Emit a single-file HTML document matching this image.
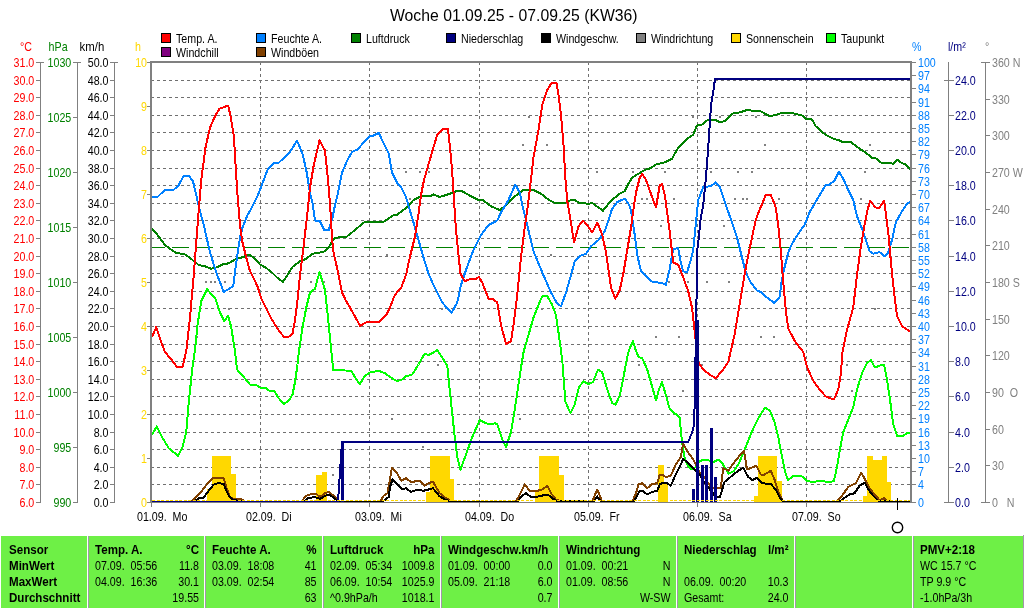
<!DOCTYPE html><html><head><meta charset="utf-8"><title>Woche 01.09.25 - 07.09.25 (KW36)</title>
<style>html,body{margin:0;padding:0;background:#fff;overflow:hidden}svg{display:block}text{font-family:"Liberation Sans",Arial,sans-serif;font-size:12px;white-space:pre}.b{font-weight:bold}</style></head><body>
<svg width="1024" height="608" viewBox="0 0 1024 608">
<rect width="1024" height="608" fill="#fff"/>
<text transform="translate(513.8,21) scale(0.985,1)" fill="#000" text-anchor="middle" style="font-size:16px" xml:space="preserve">Woche 01.09.25 - 07.09.25 (KW36)</text>
<rect x="161.5" y="33.5" width="9" height="9" fill="#ff0000" stroke="#000" shape-rendering="crispEdges"/>
<text transform="translate(176,42.5) scale(0.89,1)" xml:space="preserve">Temp. A.</text>
<rect x="256.5" y="33.5" width="9" height="9" fill="#0080ff" stroke="#000" shape-rendering="crispEdges"/>
<text transform="translate(271,42.5) scale(0.89,1)" xml:space="preserve">Feuchte A.</text>
<rect x="351.5" y="33.5" width="9" height="9" fill="#008000" stroke="#000" shape-rendering="crispEdges"/>
<text transform="translate(366,42.5) scale(0.89,1)" xml:space="preserve">Luftdruck</text>
<rect x="446.5" y="33.5" width="9" height="9" fill="#000080" stroke="#000" shape-rendering="crispEdges"/>
<text transform="translate(461,42.5) scale(0.89,1)" xml:space="preserve">Niederschlag</text>
<rect x="541.5" y="33.5" width="9" height="9" fill="#000000" stroke="#000" shape-rendering="crispEdges"/>
<text transform="translate(556,42.5) scale(0.89,1)" xml:space="preserve">Windgeschw.</text>
<rect x="636.5" y="33.5" width="9" height="9" fill="#808080" stroke="#000" shape-rendering="crispEdges"/>
<text transform="translate(651,42.5) scale(0.89,1)" xml:space="preserve">Windrichtung</text>
<rect x="731.5" y="33.5" width="9" height="9" fill="#ffd800" stroke="#000" shape-rendering="crispEdges"/>
<text transform="translate(746,42.5) scale(0.89,1)" xml:space="preserve">Sonnenschein</text>
<rect x="826.5" y="33.5" width="9" height="9" fill="#00ff00" stroke="#000" shape-rendering="crispEdges"/>
<text transform="translate(841,42.5) scale(0.89,1)" xml:space="preserve">Taupunkt</text>
<rect x="161.5" y="47.5" width="9" height="9" fill="#800080" stroke="#000" shape-rendering="crispEdges"/>
<text transform="translate(176,56.5) scale(0.89,1)" xml:space="preserve">Windchill</text>
<rect x="256.5" y="47.5" width="9" height="9" fill="#804000" stroke="#000" shape-rendering="crispEdges"/>
<text transform="translate(271,56.5) scale(0.89,1)" xml:space="preserve">Windböen</text>
<g shape-rendering="crispEdges">
<line x1="151" x2="910" y1="80.5" y2="80.5" stroke="#707070" stroke-width="1" stroke-dasharray="3 3"/>
<line x1="151" x2="910" y1="97.5" y2="97.5" stroke="#707070" stroke-width="1" stroke-dasharray="3 3"/>
<line x1="151" x2="910" y1="115.5" y2="115.5" stroke="#707070" stroke-width="1" stroke-dasharray="3 3"/>
<line x1="151" x2="910" y1="132.5" y2="132.5" stroke="#707070" stroke-width="1" stroke-dasharray="3 3"/>
<line x1="151" x2="910" y1="150.5" y2="150.5" stroke="#707070" stroke-width="1" stroke-dasharray="3 3"/>
<line x1="151" x2="910" y1="168.5" y2="168.5" stroke="#707070" stroke-width="1" stroke-dasharray="3 3"/>
<line x1="151" x2="910" y1="185.5" y2="185.5" stroke="#707070" stroke-width="1" stroke-dasharray="3 3"/>
<line x1="151" x2="910" y1="203.5" y2="203.5" stroke="#707070" stroke-width="1" stroke-dasharray="3 3"/>
<line x1="151" x2="910" y1="220.5" y2="220.5" stroke="#707070" stroke-width="1" stroke-dasharray="3 3"/>
<line x1="151" x2="910" y1="238.5" y2="238.5" stroke="#707070" stroke-width="1" stroke-dasharray="3 3"/>
<line x1="151" x2="910" y1="256.5" y2="256.5" stroke="#707070" stroke-width="1" stroke-dasharray="3 3"/>
<line x1="151" x2="910" y1="273.5" y2="273.5" stroke="#707070" stroke-width="1" stroke-dasharray="3 3"/>
<line x1="151" x2="910" y1="291.5" y2="291.5" stroke="#707070" stroke-width="1" stroke-dasharray="3 3"/>
<line x1="151" x2="910" y1="308.5" y2="308.5" stroke="#707070" stroke-width="1" stroke-dasharray="3 3"/>
<line x1="151" x2="910" y1="326.5" y2="326.5" stroke="#707070" stroke-width="1" stroke-dasharray="3 3"/>
<line x1="151" x2="910" y1="344.5" y2="344.5" stroke="#707070" stroke-width="1" stroke-dasharray="3 3"/>
<line x1="151" x2="910" y1="361.5" y2="361.5" stroke="#707070" stroke-width="1" stroke-dasharray="3 3"/>
<line x1="151" x2="910" y1="379.5" y2="379.5" stroke="#707070" stroke-width="1" stroke-dasharray="3 3"/>
<line x1="151" x2="910" y1="396.5" y2="396.5" stroke="#707070" stroke-width="1" stroke-dasharray="3 3"/>
<line x1="151" x2="910" y1="414.5" y2="414.5" stroke="#707070" stroke-width="1" stroke-dasharray="3 3"/>
<line x1="151" x2="910" y1="432.5" y2="432.5" stroke="#707070" stroke-width="1" stroke-dasharray="3 3"/>
<line x1="151" x2="910" y1="449.5" y2="449.5" stroke="#707070" stroke-width="1" stroke-dasharray="3 3"/>
<line x1="151" x2="910" y1="467.5" y2="467.5" stroke="#707070" stroke-width="1" stroke-dasharray="3 3"/>
<line x1="151" x2="910" y1="484.5" y2="484.5" stroke="#707070" stroke-width="1" stroke-dasharray="3 3"/>
<line x1="260.5" x2="260.5" y1="62" y2="502" stroke="#707070" stroke-width="1" stroke-dasharray="3 3"/>
<line x1="369.5" x2="369.5" y1="62" y2="502" stroke="#707070" stroke-width="1" stroke-dasharray="3 3"/>
<line x1="479.5" x2="479.5" y1="62" y2="502" stroke="#707070" stroke-width="1" stroke-dasharray="3 3"/>
<line x1="588.5" x2="588.5" y1="62" y2="502" stroke="#707070" stroke-width="1" stroke-dasharray="3 3"/>
<line x1="697.5" x2="697.5" y1="62" y2="502" stroke="#707070" stroke-width="1" stroke-dasharray="3 3"/>
<line x1="806.5" x2="806.5" y1="62" y2="502" stroke="#707070" stroke-width="1" stroke-dasharray="3 3"/>
<line x1="152" x2="910" y1="247.5" y2="247.5" stroke="#008000" stroke-width="1" stroke-dasharray="17 7" stroke-dashoffset="4"/>
</g>
<g shape-rendering="crispEdges">
<rect x="207" y="489" width="5" height="13" fill="#ffd800"/>
<rect x="212" y="456" width="19" height="46" fill="#ffd800"/>
<rect x="231" y="474" width="5" height="28" fill="#ffd800"/>
<rect x="316" y="475" width="6" height="27" fill="#ffd800"/>
<rect x="322" y="472" width="5" height="30" fill="#ffd800"/>
<rect x="426" y="492" width="4" height="10" fill="#ffd800"/>
<rect x="430" y="456" width="20" height="46" fill="#ffd800"/>
<rect x="450" y="479" width="4" height="23" fill="#ffd800"/>
<rect x="535" y="492" width="4" height="10" fill="#ffd800"/>
<rect x="539" y="456" width="20" height="46" fill="#ffd800"/>
<rect x="559" y="475" width="5" height="27" fill="#ffd800"/>
<rect x="658" y="465" width="6" height="37" fill="#ffd800"/>
<rect x="664" y="484" width="4" height="18" fill="#ffd800"/>
<rect x="753.5" y="496" width="4.5" height="6" fill="#ffd800"/>
<rect x="758" y="456" width="19" height="46" fill="#ffd800"/>
<rect x="777" y="481" width="5" height="21" fill="#ffd800"/>
<rect x="862.5" y="496" width="4.5" height="6" fill="#ffd800"/>
<rect x="867" y="456" width="5.5" height="46" fill="#ffd800"/>
<rect x="872.5" y="460" width="9.5" height="42" fill="#ffd800"/>
<rect x="882" y="456" width="5" height="46" fill="#ffd800"/>
<rect x="887" y="482" width="4" height="20" fill="#ffd800"/>
<rect x="205" y="281" width="2" height="2" fill="#808080"/>
<rect x="210" y="281" width="2" height="2" fill="#808080"/>
<rect x="214" y="281" width="2" height="2" fill="#808080"/>
<rect x="224" y="281" width="2" height="2" fill="#808080"/>
<rect x="310" y="281" width="2" height="2" fill="#808080"/>
<rect x="323" y="281" width="2" height="2" fill="#808080"/>
<rect x="228" y="308" width="2" height="2" fill="#808080"/>
<rect x="386" y="254" width="2" height="2" fill="#808080"/>
<rect x="196" y="336" width="2" height="2" fill="#808080"/>
<rect x="332" y="474" width="2" height="2" fill="#808080"/>
<rect x="391" y="418" width="2" height="2" fill="#808080"/>
<rect x="528" y="116" width="2" height="2" fill="#808080"/>
<rect x="522" y="144" width="2" height="2" fill="#808080"/>
<rect x="546" y="144" width="2" height="2" fill="#808080"/>
<rect x="405" y="171" width="2" height="2" fill="#808080"/>
<rect x="419" y="171" width="2" height="2" fill="#808080"/>
<rect x="428" y="171" width="2" height="2" fill="#808080"/>
<rect x="596" y="171" width="2" height="2" fill="#808080"/>
<rect x="632" y="171" width="2" height="2" fill="#808080"/>
<rect x="641" y="198" width="2" height="2" fill="#808080"/>
<rect x="646" y="198" width="2" height="2" fill="#808080"/>
<rect x="409" y="198" width="2" height="2" fill="#808080"/>
<rect x="415" y="198" width="2" height="2" fill="#808080"/>
<rect x="431" y="281" width="2" height="2" fill="#808080"/>
<rect x="441" y="308" width="2" height="2" fill="#808080"/>
<rect x="550" y="254" width="2" height="2" fill="#808080"/>
<rect x="541" y="308" width="2" height="2" fill="#808080"/>
<rect x="655" y="336" width="2" height="2" fill="#808080"/>
<rect x="660" y="225" width="2" height="2" fill="#808080"/>
<rect x="437" y="364" width="2" height="2" fill="#808080"/>
<rect x="519" y="418" width="2" height="2" fill="#808080"/>
<rect x="422" y="446" width="2" height="2" fill="#808080"/>
<rect x="638" y="364" width="2" height="2" fill="#808080"/>
<rect x="692" y="116" width="2" height="2" fill="#808080"/>
<rect x="719" y="116" width="2" height="2" fill="#808080"/>
<rect x="755" y="116" width="2" height="2" fill="#808080"/>
<rect x="764" y="144" width="2" height="2" fill="#808080"/>
<rect x="869" y="144" width="2" height="2" fill="#808080"/>
<rect x="664" y="171" width="2" height="2" fill="#808080"/>
<rect x="710" y="171" width="2" height="2" fill="#808080"/>
<rect x="737" y="171" width="2" height="2" fill="#808080"/>
<rect x="751" y="171" width="2" height="2" fill="#808080"/>
<rect x="864" y="171" width="2" height="2" fill="#808080"/>
<rect x="673" y="198" width="2" height="2" fill="#808080"/>
<rect x="734" y="198" width="2" height="2" fill="#808080"/>
<rect x="742" y="198" width="2" height="2" fill="#808080"/>
<rect x="746" y="198" width="2" height="2" fill="#808080"/>
<rect x="778" y="198" width="2" height="2" fill="#808080"/>
<rect x="860" y="198" width="2" height="2" fill="#808080"/>
<rect x="723" y="225" width="2" height="2" fill="#808080"/>
<rect x="668" y="281" width="2" height="2" fill="#808080"/>
<rect x="687" y="281" width="2" height="2" fill="#808080"/>
<rect x="706" y="281" width="2" height="2" fill="#808080"/>
<rect x="728" y="281" width="2" height="2" fill="#808080"/>
<rect x="696" y="302" width="2" height="2" fill="#808080"/>
<rect x="874" y="308" width="2" height="2" fill="#808080"/>
<rect x="678" y="336" width="2" height="2" fill="#808080"/>
<rect x="760" y="336" width="2" height="2" fill="#808080"/>
<rect x="773" y="336" width="2" height="2" fill="#808080"/>
<rect x="701" y="364" width="2" height="2" fill="#808080"/>
<rect x="846" y="364" width="2" height="2" fill="#808080"/>
<rect x="682" y="390" width="2" height="2" fill="#808080"/>
<rect x="851" y="390" width="2" height="2" fill="#808080"/>
<polyline points="152,228.75 157.5,235 165,245 176.25,253.25 183.75,253.75 190,258 198.75,265 205,266.25 211.25,268.75 216.25,267.5 222.5,264.5 228.75,263.25 236.25,258.75 243.75,257 248.75,254.5 253.75,257.5 260,264.5 266.25,268 272.5,273 277.5,278 283,282 287.5,275 292.5,267 300,261.25 306.25,258.75 312.5,253.75 320,252.5 325,251.25 329.5,246.25 333.75,238.75 340,237 346.25,237 355,230 363.75,222.5 370,221.75 383.75,221.75 393.75,215 397.5,214.5 406,208 413.5,200 421,196.25 431,195.75 433.5,194.5 439.75,197 448.5,194.25 457.25,190.75 462.25,191.25 471,196.25 478.5,200 483.5,200.5 491,206.25 499.75,210 506,205 513.5,197.5 523.5,190 533.5,190 541,193.75 547.25,198.75 553.5,202.5 566,202.5 571,200 574.75,200 578.5,202.5 583.5,203.25 588.5,203.75 592.25,203 598.5,207.5 603,210.75 608.5,203.75 613.5,198.75 619.75,193.75 624.75,191.25 628.5,183.75 632.25,177.5 638.5,173.75 644.75,170 651,168 657.25,163.75 662,163.25 667,161.25 672,158.75 678.25,147.5 685.75,140 693.25,134.5 697,125.5 702,124.5 708.25,119.5 714.5,119.5 719.5,122 724.5,121.25 733.25,113.25 739.5,112.5 747,110 753.25,110.75 760.75,111.25 768.25,115.5 773.25,115.5 782,113 792,113 802,115.5 806.5,119.25 812,119.5 815.75,126.25 825.75,135 833.25,138.75 838.25,140 843.25,142.5 850.75,142 859.5,148.75 865.75,152.5 872,158 875.75,158.25 880.75,162.5 889.5,163 893.25,163.75 897,159.5 900.75,162.5 905.75,164.5 910.75,169.5" fill="none" stroke="#008000" stroke-width="2" stroke-linejoin="round"/>
<polyline points="152,434.5 156.75,426.5 161.25,435.75 168.75,448.25 178,455.75 182.5,447 186.25,432 188.75,402 192.5,367 195,350 197.5,325 201.25,301.25 207,289.25 215.5,298.75 220,312.5 224.25,321.25 228.25,315.75 231.25,327.5 235,351 237,369.5 243.75,377 250,384.5 256.25,385 261.25,388.25 266.25,388.25 270,391.25 274.25,391.25 278.75,398.25 283.75,404 288.75,400.75 292.5,394.5 295,382 297.5,364.5 299,351 302.5,327.5 306.25,307.5 310,292.5 315,288.75 319.5,272 325,290 327.5,312.5 331.25,350 333.25,370 351.25,370.75 356.25,379.5 360,384 365,375.75 370,372.5 378.75,370.75 385,373.25 390,377 396.25,380.75 401.25,380.25 406,376.25 412.25,374.5 418.5,364.5 424.75,353.5 428.5,355 433.5,352.5 437.25,350 441,355.75 447.25,365.75 451,402 454.75,437 457.25,457 460.5,469.5 466,454.5 472.25,437 479.75,420 486,423.25 489.75,424.5 494.75,423.25 497.25,424.5 502.25,439.5 506,447 511,432 514.75,409.5 518.5,384.5 521.5,364.5 523.75,351 528.5,335 533.5,317.5 538.5,305 542.25,296.25 547.25,296.25 552.25,305 556,315 558.5,332.5 561,351 562.25,360 563.5,377 565.5,402 570.5,413.25 574.75,404.5 579,387 583.5,381.5 588.5,384 593,382 598,369.5 602.25,372.5 607.25,389.5 612.25,403.25 615.5,404.5 619.75,395.75 623.5,377 627.25,357 629,350 633,341.25 636,351 638.5,357 642.25,358.25 647.25,369.5 652.25,387 656,400.25 659,389.5 662,382 665.75,394.5 669.5,408.25 674.5,413.25 679.5,417 682,442 684.5,457 687.5,465 691.25,469.5 695,467.5 700,461.25 703.75,459.5 708.75,460.5 713.75,462 718.75,459.5 722.5,463.75 728.75,473.75 733.75,471.25 738.75,463.75 745,448.75 751.5,432.5 758.25,418.25 765,407.75 770,410.75 774.5,422 778.25,437 782,457 785.75,474.5 788.25,480 793.25,475.75 802,476.5 807,480.75 812,482 822,480.75 829.5,482.5 834,480.75 837,467 839.5,452 843.25,432 848.25,419.5 853.25,407 857,389.5 862,373.25 867,363.25 870.75,360 875,367.5 879.5,365.75 884,364.5 887,379.5 890,399.5 893.25,424.5 897,435.75 902,436.5 907,433.25 910.75,432.5" fill="none" stroke="#00ff00" stroke-width="2" stroke-linejoin="round"/>
<polyline points="152,196.75 157,197.5 165,189.75 173.75,189.75 178.75,185 183.75,175.5 188.75,175.5 193,181.25 196.25,195 198.75,206.25 203.75,225 210,252.5 216.25,272.5 223.75,292 233.25,286.25 236.25,262.5 240,237.5 242.5,227.5 247.5,215 250,211 257.5,196.25 267.5,170 273.75,162.75 278.75,162.75 290,152 297,140.5 302.5,153.75 306.25,170 310,192.5 312.5,203 315,220.5 320,221.25 324.25,230 328.75,230 332.5,217.5 335,205 337.5,195 342,172.5 347.5,160 352,152 357.5,149.5 362.5,143.75 370,135.5 373.75,135.5 378.75,133 388.75,153.75 392,172.5 397.5,183.75 401.25,187.5 406,197 409.75,210 413.5,222.5 418.5,240 423.5,257.5 428.5,273.75 433.5,285 442.25,302.5 451.5,313 457.25,302.5 461,285 466,270 473.5,250 481,235 488.5,225 497.25,220.5 501,212.5 508.5,200 515.25,184.5 519.75,192.5 522.25,205 526,220 533.5,251.25 542.25,272.5 551,292.5 557.25,303.75 561,306.25 566,292.5 571,275 574.75,261.25 581,255.5 586,253.75 591,246.25 598.5,240 604.75,231.25 608.5,220 612,209 617.25,202 624.75,198.75 628.5,203.75 631,210 634.75,235 637.25,255 641,271.25 646,276.25 652.25,281.75 662,283 665.75,285 669.5,270 673.25,248.75 678.25,248.25 680.75,262.5 683.25,271.25 687,272.5 690.75,260 693.25,250 695.75,225 697.5,207 698.25,200 703.25,187 710.75,186.25 715.75,182.5 719.5,186.25 723.25,197.5 726.5,207 730.75,218.75 737,237.5 742,257.5 745.75,272.5 750.75,282.5 757,290.5 760.75,292 767,297.5 774.5,303 779.5,297.5 781.5,282.5 784.5,267.5 788.25,252.5 792,243.75 798.25,233.75 804.5,225 809.5,212.5 818.25,197.5 825.75,185 829.5,184.5 834.5,180.5 839,171.75 843.25,178.75 848.25,190 853.25,200 857,216.25 862,228.75 865.75,240 869.5,251.25 873.25,253.75 879.5,252 884.5,256.25 888.25,252.5 892,240 895.75,222.5 902,211.25 907,203.75 910.75,201.25" fill="none" stroke="#0080ff" stroke-width="2" stroke-linejoin="round"/>
<polyline points="152,337 156.25,327 160,338.75 165,352 171.25,359.5 177.5,367.5 182.5,367 186.25,351 190,317.5 193.75,275 196.25,242.5 198.75,210 201.25,180 205.5,147.5 210,127.5 215,116.25 219.5,108.75 228.25,105.5 230.5,116.25 233.75,135 235.75,167.5 237.5,195 240,225 242.5,242.5 246.25,257.5 250,271.25 257.5,286.25 261.25,298.75 270,316.25 277.5,328.75 283.75,336.75 288.75,336.75 292.5,333.75 295,320 297.5,300 300,275 303.75,245 307.5,212 310,187.5 313.75,165 319.5,140.5 325,150.5 327.5,175 330,203 331.25,225 333,250 337.5,270 342,292.5 346.25,301.25 350,307.5 360,325.75 367.5,321.75 378.75,322.5 386.25,315 390,307.5 393.75,297.5 397.5,291.25 401.25,287.5 406,275 409.75,257.5 414.75,237.5 418.5,214 421,195 424,180 429.75,160 437.25,134.5 443.5,128.75 448,128.75 449.75,145 452.25,172.5 454,200 456,230 458.5,255 460.5,273.75 464.75,281.25 471,278.75 474.75,279.5 479,277 482.25,282.5 488.5,298.75 493.5,299.5 497.25,302.5 501,325 506,343.75 511,341.25 513.5,325 517.25,295 521,257.5 524.75,227.5 527.75,206 529.75,190 533.5,157.5 538.5,130 542.25,105 547.25,90 551.5,83 556.5,83 558.5,95 561,115 563.5,145 565.5,180 567.25,201 571,222.5 574,242.5 578.5,226.25 583,220.5 587.25,225 592.25,232.5 597.25,222.5 602.25,235 606,252.5 611,287.5 615.25,298.75 619.75,290 623.5,272.5 627.25,250 631,227.5 633.5,209 636,192.5 639.75,177.5 642.25,173.75 646,180 652.25,197.5 656,207.5 659.75,185 662,184 665,196.25 666.5,208 669.5,230 673.25,262.5 678.25,265 683.25,277.5 688.25,291.25 692,307.5 694.5,330 697,352 698.25,362 703.25,369.5 709.5,374.5 715.75,378.25 723.25,369.5 728.25,362 730.75,351 734.5,335 739.5,305 744.5,275 748.25,255 752,237.5 755.75,220 759.5,210 763.25,201.25 765.75,195 770.75,195 774,202.5 775.75,208 778.25,225 780.75,250 783.25,282.5 785.75,310 788.25,328.75 795.75,342.5 803.25,352 807,367 813.25,380.75 819.5,389.5 825.75,396.5 834,399.5 838.25,389.5 840.75,374.5 842.5,352 847,330 853.25,307.5 857,275 860.75,247.5 864.5,225 867.5,210 870,201.25 875.75,207.5 879.5,207.5 884,200.5 885.75,213 888.25,232.5 890.75,260 893.25,285 897,316.25 902,326.25 910.75,332" fill="none" stroke="#ff0000" stroke-width="2" stroke-linejoin="round"/>
<polyline points="152,501.6 191.25,501.6 200,493.25 208.75,482 212.5,478.25 223.75,478.25 226.25,487 230,497 235,499.5 241.25,499 245,501.6 301.25,501.6 306.25,495.75 310,494.5 316.25,494 320,497 325,493.25 328.75,492 333.75,495.75 337.5,500 340,501.6 380,501.6 383.75,495.75 387.5,493.25 389.5,482 392,467.5 396.25,472 401.25,480.75 406,478.25 411,482 419.75,480.75 424.75,485.75 428.5,483.25 433,481.5 436,487 439.75,493.25 446,498.25 452.25,501.6 516,501.6 521,492 524.75,484.5 529.75,490.75 534.75,491.5 542.25,489.5 547.25,485.75 551,493.25 556,499.5 561,501.6 592.25,501.6 597.25,489.5 602.25,501.6 632.25,501.6 636,493.25 638.5,484.5 642.25,483.25 647.25,488.25 652.25,484 657.25,483.25 659.75,474.5 662,474.5 665.75,477 670.75,475.75 675.75,464.5 680.75,457 683.25,443.25 687,450.75 693.25,459.5 699.5,472 704.5,477 710.75,487 715.75,488.25 720.75,488.25 723.25,468.25 728.25,470.75 734.5,462 739.5,455.75 744,450.75 747,469.5 756.5,465.75 760.75,474.5 764.5,474.5 770.75,470.75 774.5,479.5 778.25,492 783.25,501.6 837,501.6 842,495.75 848.25,487 855.75,483.25 861.25,472.75 865.75,480.75 869.5,488.25 874.5,494.5 879.5,500 884,498.25 888.25,501.6 910,501.6" fill="none" stroke="#804000" stroke-width="2" stroke-linejoin="round"/>
<polyline points="152,501.6 193.75,501.6 198.75,498.25 203.75,497.5 208.75,490.75 213.75,484.5 217.5,483.25 223.75,483.75 226.25,490.75 230,497.5 233.75,500 245,501.6 303.75,501.6 307.5,498.25 315,497 320,499 325,495.75 328.75,494.5 333.75,497.75 337.5,500.75 340,501.6 382.5,501.6 388.75,497 390,487 392.5,479.5 397.5,484.5 402.5,489.5 406,488.25 411,492 417.25,489.5 423.5,490.75 428.5,489.5 433,488.25 436,492 439.75,496.5 446,500 452.25,501.6 517.25,501.6 522.25,495.75 526,493.25 531,497 538.5,496.5 544.75,495 548.5,495 552.25,498.25 557.25,501.25 593.5,501.6 597.25,496.5 601,501.6 633.5,501.6 637.25,495.75 639.75,490.75 643.5,491.5 647.25,494.5 652.25,492 657.25,490.75 659.75,484.5 662,483.25 667,483.25 670.75,485.75 675.75,474.5 680.75,464.5 683.25,459 687,462 693.25,468.25 699.5,474.5 705.75,484.5 712,492 715.75,497 720,497 724.5,482 732,475.75 738.25,470.75 743.25,467.75 748.25,477 752.5,480 757,477.75 762,483.25 770.75,484 775.75,489.5 779.5,497 783.25,501.6 839.5,501.6 845.75,497 849.5,494.5 854.5,493.25 859.5,485.75 865,482.75 868.25,489.5 873.25,495.75 878.25,500.75 895,501.6 910,501.6" fill="none" stroke="#000000" stroke-width="2" stroke-linejoin="round"/>
<rect x="341" y="442" width="3" height="60" fill="#000080"/>
<rect x="692.3" y="489" width="2.5" height="13" fill="#000080"/>
<rect x="696" y="320" width="3" height="182" fill="#000080"/>
<rect x="701" y="465" width="3" height="37" fill="#000080"/>
<rect x="705" y="465" width="3" height="37" fill="#000080"/>
<rect x="710" y="428" width="3" height="74" fill="#000080"/>
<rect x="714" y="477" width="3" height="25" fill="#000080"/>
<polyline points="152,501.6 338,501.6 339,487 340,472 341,457 342,442 688.25,442 692,432.5 694.2,425 695,384.5 695.6,352 696.1,320 696.6,295 697.3,250 698.5,240 700.75,217.5 703.25,205 705.75,180 708.25,147.5 711,105 713.5,90 715,79 910,79" fill="none" stroke="#000080" stroke-width="2" stroke-linejoin="round"/>
<line x1="152" x2="910" y1="500.5" y2="500.5" stroke="#ffd800" stroke-width="1" stroke-dasharray="3 1.5"/>
</g>
<g shape-rendering="crispEdges" fill="#808080">
<rect x="150" y="61" width="2" height="441"/>
<rect x="150" y="61" width="762" height="2"/>
<rect x="910" y="61" width="2" height="442"/>
<rect x="150" y="502" width="762" height="1"/>
<rect x="151" y="502" width="1" height="5"/>
<rect x="260" y="502" width="1" height="5"/>
<rect x="369" y="502" width="1" height="5"/>
<rect x="479" y="502" width="1" height="5"/>
<rect x="588" y="502" width="1" height="5"/>
<rect x="697" y="502" width="1" height="5"/>
<rect x="806" y="502" width="1" height="5"/>
<rect x="40" y="62" width="1" height="441"/>
<rect x="40" y="62" width="4" height="1"/>
<rect x="36" y="502" width="4" height="1"/>
<rect x="36" y="484" width="4" height="1"/>
<rect x="36" y="467" width="4" height="1"/>
<rect x="36" y="449" width="4" height="1"/>
<rect x="36" y="432" width="4" height="1"/>
<rect x="36" y="414" width="4" height="1"/>
<rect x="36" y="396" width="4" height="1"/>
<rect x="36" y="379" width="4" height="1"/>
<rect x="36" y="361" width="4" height="1"/>
<rect x="36" y="344" width="4" height="1"/>
<rect x="36" y="326" width="4" height="1"/>
<rect x="36" y="308" width="4" height="1"/>
<rect x="36" y="291" width="4" height="1"/>
<rect x="36" y="273" width="4" height="1"/>
<rect x="36" y="256" width="4" height="1"/>
<rect x="36" y="238" width="4" height="1"/>
<rect x="36" y="220" width="4" height="1"/>
<rect x="36" y="203" width="4" height="1"/>
<rect x="36" y="185" width="4" height="1"/>
<rect x="36" y="168" width="4" height="1"/>
<rect x="36" y="150" width="4" height="1"/>
<rect x="36" y="132" width="4" height="1"/>
<rect x="36" y="115" width="4" height="1"/>
<rect x="36" y="97" width="4" height="1"/>
<rect x="36" y="80" width="4" height="1"/>
<rect x="36" y="62" width="4" height="1"/>
<rect x="77" y="62" width="1" height="441"/>
<rect x="77" y="62" width="4" height="1"/>
<rect x="73" y="502" width="4" height="1"/>
<rect x="73" y="447" width="4" height="1"/>
<rect x="73" y="392" width="4" height="1"/>
<rect x="73" y="337" width="4" height="1"/>
<rect x="73" y="282" width="4" height="1"/>
<rect x="73" y="227" width="4" height="1"/>
<rect x="73" y="172" width="4" height="1"/>
<rect x="73" y="117" width="4" height="1"/>
<rect x="73" y="62" width="4" height="1"/>
<rect x="114" y="62" width="1" height="441"/>
<rect x="114" y="62" width="4" height="1"/>
<rect x="110" y="502" width="4" height="1"/>
<rect x="110" y="484" width="4" height="1"/>
<rect x="110" y="467" width="4" height="1"/>
<rect x="110" y="449" width="4" height="1"/>
<rect x="110" y="432" width="4" height="1"/>
<rect x="110" y="414" width="4" height="1"/>
<rect x="110" y="396" width="4" height="1"/>
<rect x="110" y="379" width="4" height="1"/>
<rect x="110" y="361" width="4" height="1"/>
<rect x="110" y="344" width="4" height="1"/>
<rect x="110" y="326" width="4" height="1"/>
<rect x="110" y="308" width="4" height="1"/>
<rect x="110" y="291" width="4" height="1"/>
<rect x="110" y="273" width="4" height="1"/>
<rect x="110" y="256" width="4" height="1"/>
<rect x="110" y="238" width="4" height="1"/>
<rect x="110" y="220" width="4" height="1"/>
<rect x="110" y="203" width="4" height="1"/>
<rect x="110" y="185" width="4" height="1"/>
<rect x="110" y="168" width="4" height="1"/>
<rect x="110" y="150" width="4" height="1"/>
<rect x="110" y="132" width="4" height="1"/>
<rect x="110" y="115" width="4" height="1"/>
<rect x="110" y="97" width="4" height="1"/>
<rect x="110" y="80" width="4" height="1"/>
<rect x="110" y="62" width="4" height="1"/>
<rect x="147" y="502" width="3" height="1"/>
<rect x="147" y="458" width="3" height="1"/>
<rect x="147" y="414" width="3" height="1"/>
<rect x="147" y="370" width="3" height="1"/>
<rect x="147" y="326" width="3" height="1"/>
<rect x="147" y="282" width="3" height="1"/>
<rect x="147" y="238" width="3" height="1"/>
<rect x="147" y="194" width="3" height="1"/>
<rect x="147" y="150" width="3" height="1"/>
<rect x="147" y="106" width="3" height="1"/>
<rect x="147" y="62" width="3" height="1"/>
<rect x="912" y="62" width="4" height="1"/>
<rect x="912" y="75" width="4" height="1"/>
<rect x="912" y="88" width="4" height="1"/>
<rect x="912" y="102" width="4" height="1"/>
<rect x="912" y="115" width="4" height="1"/>
<rect x="912" y="128" width="4" height="1"/>
<rect x="912" y="141" width="4" height="1"/>
<rect x="912" y="154" width="4" height="1"/>
<rect x="912" y="168" width="4" height="1"/>
<rect x="912" y="181" width="4" height="1"/>
<rect x="912" y="194" width="4" height="1"/>
<rect x="912" y="207" width="4" height="1"/>
<rect x="912" y="220" width="4" height="1"/>
<rect x="912" y="234" width="4" height="1"/>
<rect x="912" y="247" width="4" height="1"/>
<rect x="912" y="260" width="4" height="1"/>
<rect x="912" y="273" width="4" height="1"/>
<rect x="912" y="286" width="4" height="1"/>
<rect x="912" y="300" width="4" height="1"/>
<rect x="912" y="313" width="4" height="1"/>
<rect x="912" y="326" width="4" height="1"/>
<rect x="912" y="339" width="4" height="1"/>
<rect x="912" y="352" width="4" height="1"/>
<rect x="912" y="366" width="4" height="1"/>
<rect x="912" y="379" width="4" height="1"/>
<rect x="912" y="392" width="4" height="1"/>
<rect x="912" y="405" width="4" height="1"/>
<rect x="912" y="418" width="4" height="1"/>
<rect x="912" y="432" width="4" height="1"/>
<rect x="912" y="445" width="4" height="1"/>
<rect x="912" y="458" width="4" height="1"/>
<rect x="912" y="471" width="4" height="1"/>
<rect x="912" y="484" width="4" height="1"/>
<rect x="912" y="502" width="4" height="1"/>
<rect x="948" y="62" width="1" height="441"/>
<rect x="944" y="502" width="10" height="1"/>
<rect x="948" y="467" width="6" height="1"/>
<rect x="948" y="432" width="6" height="1"/>
<rect x="948" y="396" width="6" height="1"/>
<rect x="948" y="361" width="6" height="1"/>
<rect x="948" y="326" width="6" height="1"/>
<rect x="948" y="291" width="6" height="1"/>
<rect x="948" y="256" width="6" height="1"/>
<rect x="948" y="220" width="6" height="1"/>
<rect x="948" y="185" width="6" height="1"/>
<rect x="948" y="150" width="6" height="1"/>
<rect x="948" y="115" width="6" height="1"/>
<rect x="944" y="80" width="10" height="1"/>
<rect x="985" y="62" width="1" height="441"/>
<rect x="981" y="502" width="9" height="1"/>
<rect x="985" y="465" width="5" height="1"/>
<rect x="985" y="429" width="5" height="1"/>
<rect x="985" y="392" width="5" height="1"/>
<rect x="985" y="355" width="5" height="1"/>
<rect x="985" y="319" width="5" height="1"/>
<rect x="985" y="282" width="5" height="1"/>
<rect x="985" y="245" width="5" height="1"/>
<rect x="985" y="209" width="5" height="1"/>
<rect x="985" y="172" width="5" height="1"/>
<rect x="985" y="135" width="5" height="1"/>
<rect x="985" y="99" width="5" height="1"/>
<rect x="981" y="62" width="9" height="1"/>
</g>
<text transform="translate(34.3,506.5) scale(0.89,1)" fill="#ff0000" text-anchor="end" xml:space="preserve">6.0</text>
<text transform="translate(34.3,488.5) scale(0.89,1)" fill="#ff0000" text-anchor="end" xml:space="preserve">7.0</text>
<text transform="translate(34.3,471.5) scale(0.89,1)" fill="#ff0000" text-anchor="end" xml:space="preserve">8.0</text>
<text transform="translate(34.3,453.5) scale(0.89,1)" fill="#ff0000" text-anchor="end" xml:space="preserve">9.0</text>
<text transform="translate(34.3,436.5) scale(0.89,1)" fill="#ff0000" text-anchor="end" xml:space="preserve">10.0</text>
<text transform="translate(34.3,418.5) scale(0.89,1)" fill="#ff0000" text-anchor="end" xml:space="preserve">11.0</text>
<text transform="translate(34.3,400.5) scale(0.89,1)" fill="#ff0000" text-anchor="end" xml:space="preserve">12.0</text>
<text transform="translate(34.3,383.5) scale(0.89,1)" fill="#ff0000" text-anchor="end" xml:space="preserve">13.0</text>
<text transform="translate(34.3,365.5) scale(0.89,1)" fill="#ff0000" text-anchor="end" xml:space="preserve">14.0</text>
<text transform="translate(34.3,348.5) scale(0.89,1)" fill="#ff0000" text-anchor="end" xml:space="preserve">15.0</text>
<text transform="translate(34.3,330.5) scale(0.89,1)" fill="#ff0000" text-anchor="end" xml:space="preserve">16.0</text>
<text transform="translate(34.3,312.5) scale(0.89,1)" fill="#ff0000" text-anchor="end" xml:space="preserve">17.0</text>
<text transform="translate(34.3,295.5) scale(0.89,1)" fill="#ff0000" text-anchor="end" xml:space="preserve">18.0</text>
<text transform="translate(34.3,277.5) scale(0.89,1)" fill="#ff0000" text-anchor="end" xml:space="preserve">19.0</text>
<text transform="translate(34.3,260.5) scale(0.89,1)" fill="#ff0000" text-anchor="end" xml:space="preserve">20.0</text>
<text transform="translate(34.3,242.5) scale(0.89,1)" fill="#ff0000" text-anchor="end" xml:space="preserve">21.0</text>
<text transform="translate(34.3,224.5) scale(0.89,1)" fill="#ff0000" text-anchor="end" xml:space="preserve">22.0</text>
<text transform="translate(34.3,207.5) scale(0.89,1)" fill="#ff0000" text-anchor="end" xml:space="preserve">23.0</text>
<text transform="translate(34.3,189.5) scale(0.89,1)" fill="#ff0000" text-anchor="end" xml:space="preserve">24.0</text>
<text transform="translate(34.3,172.5) scale(0.89,1)" fill="#ff0000" text-anchor="end" xml:space="preserve">25.0</text>
<text transform="translate(34.3,154.5) scale(0.89,1)" fill="#ff0000" text-anchor="end" xml:space="preserve">26.0</text>
<text transform="translate(34.3,136.5) scale(0.89,1)" fill="#ff0000" text-anchor="end" xml:space="preserve">27.0</text>
<text transform="translate(34.3,119.5) scale(0.89,1)" fill="#ff0000" text-anchor="end" xml:space="preserve">28.0</text>
<text transform="translate(34.3,101.5) scale(0.89,1)" fill="#ff0000" text-anchor="end" xml:space="preserve">29.0</text>
<text transform="translate(34.3,84.5) scale(0.89,1)" fill="#ff0000" text-anchor="end" xml:space="preserve">30.0</text>
<text transform="translate(34.3,66.5) scale(0.89,1)" fill="#ff0000" text-anchor="end" xml:space="preserve">31.0</text>
<text transform="translate(20,51) scale(0.89,1)" fill="#ff0000" xml:space="preserve">°C</text>
<text transform="translate(71.3,506.5) scale(0.89,1)" fill="#008000" text-anchor="end" xml:space="preserve">990</text>
<text transform="translate(71.3,451.5) scale(0.89,1)" fill="#008000" text-anchor="end" xml:space="preserve">995</text>
<text transform="translate(71.3,396.5) scale(0.89,1)" fill="#008000" text-anchor="end" xml:space="preserve">1000</text>
<text transform="translate(71.3,341.5) scale(0.89,1)" fill="#008000" text-anchor="end" xml:space="preserve">1005</text>
<text transform="translate(71.3,286.5) scale(0.89,1)" fill="#008000" text-anchor="end" xml:space="preserve">1010</text>
<text transform="translate(71.3,231.5) scale(0.89,1)" fill="#008000" text-anchor="end" xml:space="preserve">1015</text>
<text transform="translate(71.3,176.5) scale(0.89,1)" fill="#008000" text-anchor="end" xml:space="preserve">1020</text>
<text transform="translate(71.3,121.5) scale(0.89,1)" fill="#008000" text-anchor="end" xml:space="preserve">1025</text>
<text transform="translate(71.3,66.5) scale(0.89,1)" fill="#008000" text-anchor="end" xml:space="preserve">1030</text>
<text transform="translate(48.6,51) scale(0.89,1)" fill="#008000" xml:space="preserve">hPa</text>
<text transform="translate(108.5,506.5) scale(0.89,1)" fill="#000" text-anchor="end" xml:space="preserve">0.0</text>
<text transform="translate(108.5,488.5) scale(0.89,1)" fill="#000" text-anchor="end" xml:space="preserve">2.0</text>
<text transform="translate(108.5,471.5) scale(0.89,1)" fill="#000" text-anchor="end" xml:space="preserve">4.0</text>
<text transform="translate(108.5,453.5) scale(0.89,1)" fill="#000" text-anchor="end" xml:space="preserve">6.0</text>
<text transform="translate(108.5,436.5) scale(0.89,1)" fill="#000" text-anchor="end" xml:space="preserve">8.0</text>
<text transform="translate(108.5,418.5) scale(0.89,1)" fill="#000" text-anchor="end" xml:space="preserve">10.0</text>
<text transform="translate(108.5,400.5) scale(0.89,1)" fill="#000" text-anchor="end" xml:space="preserve">12.0</text>
<text transform="translate(108.5,383.5) scale(0.89,1)" fill="#000" text-anchor="end" xml:space="preserve">14.0</text>
<text transform="translate(108.5,365.5) scale(0.89,1)" fill="#000" text-anchor="end" xml:space="preserve">16.0</text>
<text transform="translate(108.5,348.5) scale(0.89,1)" fill="#000" text-anchor="end" xml:space="preserve">18.0</text>
<text transform="translate(108.5,330.5) scale(0.89,1)" fill="#000" text-anchor="end" xml:space="preserve">20.0</text>
<text transform="translate(108.5,312.5) scale(0.89,1)" fill="#000" text-anchor="end" xml:space="preserve">22.0</text>
<text transform="translate(108.5,295.5) scale(0.89,1)" fill="#000" text-anchor="end" xml:space="preserve">24.0</text>
<text transform="translate(108.5,277.5) scale(0.89,1)" fill="#000" text-anchor="end" xml:space="preserve">26.0</text>
<text transform="translate(108.5,260.5) scale(0.89,1)" fill="#000" text-anchor="end" xml:space="preserve">28.0</text>
<text transform="translate(108.5,242.5) scale(0.89,1)" fill="#000" text-anchor="end" xml:space="preserve">30.0</text>
<text transform="translate(108.5,224.5) scale(0.89,1)" fill="#000" text-anchor="end" xml:space="preserve">32.0</text>
<text transform="translate(108.5,207.5) scale(0.89,1)" fill="#000" text-anchor="end" xml:space="preserve">34.0</text>
<text transform="translate(108.5,189.5) scale(0.89,1)" fill="#000" text-anchor="end" xml:space="preserve">36.0</text>
<text transform="translate(108.5,172.5) scale(0.89,1)" fill="#000" text-anchor="end" xml:space="preserve">38.0</text>
<text transform="translate(108.5,154.5) scale(0.89,1)" fill="#000" text-anchor="end" xml:space="preserve">40.0</text>
<text transform="translate(108.5,136.5) scale(0.89,1)" fill="#000" text-anchor="end" xml:space="preserve">42.0</text>
<text transform="translate(108.5,119.5) scale(0.89,1)" fill="#000" text-anchor="end" xml:space="preserve">44.0</text>
<text transform="translate(108.5,101.5) scale(0.89,1)" fill="#000" text-anchor="end" xml:space="preserve">46.0</text>
<text transform="translate(108.5,84.5) scale(0.89,1)" fill="#000" text-anchor="end" xml:space="preserve">48.0</text>
<text transform="translate(108.5,66.5) scale(0.89,1)" fill="#000" text-anchor="end" xml:space="preserve">50.0</text>
<text transform="translate(79.6,51) scale(0.95,1)" fill="#000" xml:space="preserve">km/h</text>
<text transform="translate(147,506.5) scale(0.89,1)" fill="#ffd800" text-anchor="end" xml:space="preserve">0</text>
<text transform="translate(147,462.5) scale(0.89,1)" fill="#ffd800" text-anchor="end" xml:space="preserve">1</text>
<text transform="translate(147,418.5) scale(0.89,1)" fill="#ffd800" text-anchor="end" xml:space="preserve">2</text>
<text transform="translate(147,374.5) scale(0.89,1)" fill="#ffd800" text-anchor="end" xml:space="preserve">3</text>
<text transform="translate(147,330.5) scale(0.89,1)" fill="#ffd800" text-anchor="end" xml:space="preserve">4</text>
<text transform="translate(147,286.5) scale(0.89,1)" fill="#ffd800" text-anchor="end" xml:space="preserve">5</text>
<text transform="translate(147,242.5) scale(0.89,1)" fill="#ffd800" text-anchor="end" xml:space="preserve">6</text>
<text transform="translate(147,198.5) scale(0.89,1)" fill="#ffd800" text-anchor="end" xml:space="preserve">7</text>
<text transform="translate(147,154.5) scale(0.89,1)" fill="#ffd800" text-anchor="end" xml:space="preserve">8</text>
<text transform="translate(147,110.5) scale(0.89,1)" fill="#ffd800" text-anchor="end" xml:space="preserve">9</text>
<text transform="translate(147,66.5) scale(0.89,1)" fill="#ffd800" text-anchor="end" xml:space="preserve">10</text>
<text transform="translate(135,51) scale(0.89,1)" fill="#ffd800" xml:space="preserve">h</text>
<text transform="translate(918,66.5) scale(0.89,1)" fill="#0080ff" xml:space="preserve">100</text>
<text transform="translate(918,79.5) scale(0.89,1)" fill="#0080ff" xml:space="preserve">97</text>
<text transform="translate(918,92.5) scale(0.89,1)" fill="#0080ff" xml:space="preserve">94</text>
<text transform="translate(918,106.5) scale(0.89,1)" fill="#0080ff" xml:space="preserve">91</text>
<text transform="translate(918,119.5) scale(0.89,1)" fill="#0080ff" xml:space="preserve">88</text>
<text transform="translate(918,132.5) scale(0.89,1)" fill="#0080ff" xml:space="preserve">85</text>
<text transform="translate(918,145.5) scale(0.89,1)" fill="#0080ff" xml:space="preserve">82</text>
<text transform="translate(918,158.5) scale(0.89,1)" fill="#0080ff" xml:space="preserve">79</text>
<text transform="translate(918,172.5) scale(0.89,1)" fill="#0080ff" xml:space="preserve">76</text>
<text transform="translate(918,185.5) scale(0.89,1)" fill="#0080ff" xml:space="preserve">73</text>
<text transform="translate(918,198.5) scale(0.89,1)" fill="#0080ff" xml:space="preserve">70</text>
<text transform="translate(918,211.5) scale(0.89,1)" fill="#0080ff" xml:space="preserve">67</text>
<text transform="translate(918,224.5) scale(0.89,1)" fill="#0080ff" xml:space="preserve">64</text>
<text transform="translate(918,238.5) scale(0.89,1)" fill="#0080ff" xml:space="preserve">61</text>
<text transform="translate(918,251.5) scale(0.89,1)" fill="#0080ff" xml:space="preserve">58</text>
<text transform="translate(918,264.5) scale(0.89,1)" fill="#0080ff" xml:space="preserve">55</text>
<text transform="translate(918,277.5) scale(0.89,1)" fill="#0080ff" xml:space="preserve">52</text>
<text transform="translate(918,290.5) scale(0.89,1)" fill="#0080ff" xml:space="preserve">49</text>
<text transform="translate(918,304.5) scale(0.89,1)" fill="#0080ff" xml:space="preserve">46</text>
<text transform="translate(918,317.5) scale(0.89,1)" fill="#0080ff" xml:space="preserve">43</text>
<text transform="translate(918,330.5) scale(0.89,1)" fill="#0080ff" xml:space="preserve">40</text>
<text transform="translate(918,343.5) scale(0.89,1)" fill="#0080ff" xml:space="preserve">37</text>
<text transform="translate(918,356.5) scale(0.89,1)" fill="#0080ff" xml:space="preserve">34</text>
<text transform="translate(918,370.5) scale(0.89,1)" fill="#0080ff" xml:space="preserve">31</text>
<text transform="translate(918,383.5) scale(0.89,1)" fill="#0080ff" xml:space="preserve">28</text>
<text transform="translate(918,396.5) scale(0.89,1)" fill="#0080ff" xml:space="preserve">25</text>
<text transform="translate(918,409.5) scale(0.89,1)" fill="#0080ff" xml:space="preserve">22</text>
<text transform="translate(918,422.5) scale(0.89,1)" fill="#0080ff" xml:space="preserve">19</text>
<text transform="translate(918,436.5) scale(0.89,1)" fill="#0080ff" xml:space="preserve">16</text>
<text transform="translate(918,449.5) scale(0.89,1)" fill="#0080ff" xml:space="preserve">13</text>
<text transform="translate(918,462.5) scale(0.89,1)" fill="#0080ff" xml:space="preserve">10</text>
<text transform="translate(918,475.5) scale(0.89,1)" fill="#0080ff" xml:space="preserve">7</text>
<text transform="translate(918,488.5) scale(0.89,1)" fill="#0080ff" xml:space="preserve">4</text>
<text transform="translate(918,506.5) scale(0.89,1)" fill="#0080ff" xml:space="preserve">0</text>
<text transform="translate(912,51) scale(0.89,1)" fill="#0080ff" xml:space="preserve">%</text>
<text transform="translate(955,506.5) scale(0.89,1)" fill="#000080" xml:space="preserve">0.0</text>
<text transform="translate(955,471.5) scale(0.89,1)" fill="#000080" xml:space="preserve">2.0</text>
<text transform="translate(955,436.5) scale(0.89,1)" fill="#000080" xml:space="preserve">4.0</text>
<text transform="translate(955,400.5) scale(0.89,1)" fill="#000080" xml:space="preserve">6.0</text>
<text transform="translate(955,365.5) scale(0.89,1)" fill="#000080" xml:space="preserve">8.0</text>
<text transform="translate(955,330.5) scale(0.89,1)" fill="#000080" xml:space="preserve">10.0</text>
<text transform="translate(955,295.5) scale(0.89,1)" fill="#000080" xml:space="preserve">12.0</text>
<text transform="translate(955,260.5) scale(0.89,1)" fill="#000080" xml:space="preserve">14.0</text>
<text transform="translate(955,224.5) scale(0.89,1)" fill="#000080" xml:space="preserve">16.0</text>
<text transform="translate(955,189.5) scale(0.89,1)" fill="#000080" xml:space="preserve">18.0</text>
<text transform="translate(955,154.5) scale(0.89,1)" fill="#000080" xml:space="preserve">20.0</text>
<text transform="translate(955,119.5) scale(0.89,1)" fill="#000080" xml:space="preserve">22.0</text>
<text transform="translate(955,84.5) scale(0.89,1)" fill="#000080" xml:space="preserve">24.0</text>
<text transform="translate(948,51) scale(0.89,1)" fill="#000080" xml:space="preserve">l/m²</text>
<text transform="translate(992,506.5) scale(0.89,1)" fill="#808080" xml:space="preserve">0   N</text>
<text transform="translate(992,469.5) scale(0.89,1)" fill="#808080" xml:space="preserve">30</text>
<text transform="translate(992,433.5) scale(0.89,1)" fill="#808080" xml:space="preserve">60</text>
<text transform="translate(992,396.5) scale(0.89,1)" fill="#808080" xml:space="preserve">90  O</text>
<text transform="translate(992,359.5) scale(0.89,1)" fill="#808080" xml:space="preserve">120</text>
<text transform="translate(992,323.5) scale(0.89,1)" fill="#808080" xml:space="preserve">150</text>
<text transform="translate(992,286.5) scale(0.89,1)" fill="#808080" xml:space="preserve">180 S</text>
<text transform="translate(992,249.5) scale(0.89,1)" fill="#808080" xml:space="preserve">210</text>
<text transform="translate(992,213.5) scale(0.89,1)" fill="#808080" xml:space="preserve">240</text>
<text transform="translate(992,176.5) scale(0.89,1)" fill="#808080" xml:space="preserve">270 W</text>
<text transform="translate(992,139.5) scale(0.89,1)" fill="#808080" xml:space="preserve">300</text>
<text transform="translate(992,103.5) scale(0.89,1)" fill="#808080" xml:space="preserve">330</text>
<text transform="translate(992,66.5) scale(0.89,1)" fill="#808080" xml:space="preserve">360 N</text>
<text transform="translate(985,51) scale(0.89,1)" fill="#808080" xml:space="preserve">°</text>
<text transform="translate(137,521) scale(0.89,1)" fill="#000" xml:space="preserve">01.09.  Mo</text>
<text transform="translate(246,521) scale(0.89,1)" fill="#000" xml:space="preserve">02.09.  Di</text>
<text transform="translate(355,521) scale(0.89,1)" fill="#000" xml:space="preserve">03.09.  Mi</text>
<text transform="translate(465,521) scale(0.89,1)" fill="#000" xml:space="preserve">04.09.  Do</text>
<text transform="translate(574,521) scale(0.89,1)" fill="#000" xml:space="preserve">05.09.  Fr</text>
<text transform="translate(683,521) scale(0.89,1)" fill="#000" xml:space="preserve">06.09.  Sa</text>
<text transform="translate(792,521) scale(0.89,1)" fill="#000" xml:space="preserve">07.09.  So</text>
<g shape-rendering="crispEdges"><rect x="897" y="498" width="1" height="12" fill="#000"/></g>
<circle cx="897.5" cy="527.5" r="5.2" fill="none" stroke="#000" stroke-width="1.4"/>
<rect x="1" y="536" width="1022" height="72" fill="#6ef046"/>
<rect x="1023" y="535" width="1" height="73" fill="#a098a8" shape-rendering="crispEdges"/>
<g shape-rendering="crispEdges">
<rect x="87" y="536" width="1" height="72" fill="#fff"/><rect x="88" y="536" width="1" height="72" fill="#a098a8"/>
<rect x="204" y="536" width="1" height="72" fill="#fff"/><rect x="205" y="536" width="1" height="72" fill="#a098a8"/>
<rect x="322" y="536" width="1" height="72" fill="#fff"/><rect x="323" y="536" width="1" height="72" fill="#a098a8"/>
<rect x="440" y="536" width="1" height="72" fill="#fff"/><rect x="441" y="536" width="1" height="72" fill="#a098a8"/>
<rect x="558" y="536" width="1" height="72" fill="#fff"/><rect x="559" y="536" width="1" height="72" fill="#a098a8"/>
<rect x="676" y="536" width="1" height="72" fill="#fff"/><rect x="677" y="536" width="1" height="72" fill="#a098a8"/>
<rect x="794" y="536" width="1" height="72" fill="#fff"/><rect x="795" y="536" width="1" height="72" fill="#a098a8"/>
<rect x="912" y="536" width="1" height="72" fill="#fff"/><rect x="913" y="536" width="1" height="72" fill="#a098a8"/>
</g>
<text transform="translate(9,554) scale(0.965,1)" class="b" xml:space="preserve">Sensor</text>
<text transform="translate(9,570) scale(0.965,1)" class="b" xml:space="preserve">MinWert</text>
<text transform="translate(9,586) scale(0.965,1)" class="b" xml:space="preserve">MaxWert</text>
<text transform="translate(9,602) scale(0.965,1)" class="b" xml:space="preserve">Durchschnitt</text>
<text transform="translate(95,554) scale(0.965,1)" class="b" xml:space="preserve">Temp. A.</text>
<text transform="translate(199,554) scale(0.965,1)" text-anchor="end" class="b" xml:space="preserve">°C</text>
<text transform="translate(95,570) scale(0.89,1)" xml:space="preserve">07.09.  05:56</text>
<text transform="translate(199,570) scale(0.89,1)" text-anchor="end" xml:space="preserve">11.8</text>
<text transform="translate(95,586) scale(0.89,1)" xml:space="preserve">04.09.  16:36</text>
<text transform="translate(199,586) scale(0.89,1)" text-anchor="end" xml:space="preserve">30.1</text>
<text transform="translate(199,602) scale(0.89,1)" text-anchor="end" xml:space="preserve">19.55</text>
<text transform="translate(212,554) scale(0.965,1)" class="b" xml:space="preserve">Feuchte A.</text>
<text transform="translate(316.5,554) scale(0.965,1)" text-anchor="end" class="b" xml:space="preserve">%</text>
<text transform="translate(212,570) scale(0.89,1)" xml:space="preserve">03.09.  18:08</text>
<text transform="translate(316.5,570) scale(0.89,1)" text-anchor="end" xml:space="preserve">41</text>
<text transform="translate(212,586) scale(0.89,1)" xml:space="preserve">03.09.  02:54</text>
<text transform="translate(316.5,586) scale(0.89,1)" text-anchor="end" xml:space="preserve">85</text>
<text transform="translate(316.5,602) scale(0.89,1)" text-anchor="end" xml:space="preserve">63</text>
<text transform="translate(330,554) scale(0.965,1)" class="b" xml:space="preserve">Luftdruck</text>
<text transform="translate(434.5,554) scale(0.965,1)" text-anchor="end" class="b" xml:space="preserve">hPa</text>
<text transform="translate(330,570) scale(0.89,1)" xml:space="preserve">02.09.  05:34</text>
<text transform="translate(434.5,570) scale(0.89,1)" text-anchor="end" xml:space="preserve">1009.8</text>
<text transform="translate(330,586) scale(0.89,1)" xml:space="preserve">06.09.  10:54</text>
<text transform="translate(434.5,586) scale(0.89,1)" text-anchor="end" xml:space="preserve">1025.9</text>
<text transform="translate(330,602) scale(0.89,1)" xml:space="preserve">^0.9hPa/h</text>
<text transform="translate(434.5,602) scale(0.89,1)" text-anchor="end" xml:space="preserve">1018.1</text>
<text transform="translate(448,554) scale(0.965,1)" class="b" xml:space="preserve">Windgeschw.km/h</text>
<text transform="translate(448,570) scale(0.89,1)" xml:space="preserve">01.09.  00:00</text>
<text transform="translate(552.5,570) scale(0.89,1)" text-anchor="end" xml:space="preserve">0.0</text>
<text transform="translate(448,586) scale(0.89,1)" xml:space="preserve">05.09.  21:18</text>
<text transform="translate(552.5,586) scale(0.89,1)" text-anchor="end" xml:space="preserve">6.0</text>
<text transform="translate(552.5,602) scale(0.89,1)" text-anchor="end" xml:space="preserve">0.7</text>
<text transform="translate(566,554) scale(0.965,1)" class="b" xml:space="preserve">Windrichtung</text>
<text transform="translate(566,570) scale(0.89,1)" xml:space="preserve">01.09.  00:21</text>
<text transform="translate(670.5,570) scale(0.89,1)" text-anchor="end" xml:space="preserve">N</text>
<text transform="translate(566,586) scale(0.89,1)" xml:space="preserve">01.09.  08:56</text>
<text transform="translate(670.5,586) scale(0.89,1)" text-anchor="end" xml:space="preserve">N</text>
<text transform="translate(670.5,602) scale(0.89,1)" text-anchor="end" xml:space="preserve">W-SW</text>
<text transform="translate(684,554) scale(0.965,1)" class="b" xml:space="preserve">Niederschlag</text>
<text transform="translate(788.5,554) scale(0.965,1)" text-anchor="end" class="b" xml:space="preserve">l/m²</text>
<text transform="translate(684,586) scale(0.89,1)" xml:space="preserve">06.09.  00:20</text>
<text transform="translate(788.5,586) scale(0.89,1)" text-anchor="end" xml:space="preserve">10.3</text>
<text transform="translate(684,602) scale(0.89,1)" xml:space="preserve">Gesamt:</text>
<text transform="translate(788.5,602) scale(0.89,1)" text-anchor="end" xml:space="preserve">24.0</text>
<text transform="translate(920,554) scale(0.965,1)" class="b" xml:space="preserve">PMV+2:18</text>
<text transform="translate(920,570) scale(0.89,1)" xml:space="preserve">WC 15.7 °C</text>
<text transform="translate(920,586) scale(0.89,1)" xml:space="preserve">TP 9.9 °C</text>
<text transform="translate(920,602) scale(0.89,1)" xml:space="preserve">-1.0hPa/3h</text>
</svg></body></html>
